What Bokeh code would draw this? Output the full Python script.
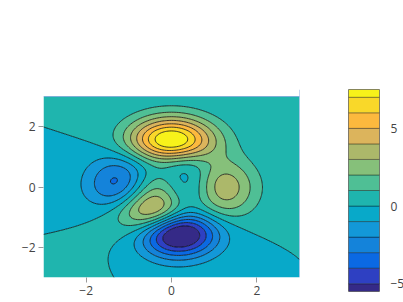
import numpy as np
from bokeh.plotting import figure
from bokeh.layouts import row
from bokeh.models import FixedTicker, Span
from bokeh.embed import file_html
from bokeh.resources import INLINE

# ---- data: the "peaks" surface sampled on a grid over [-3, 3] x [-3, 3] ----
x_vals = np.linspace(-3, 3, 151)
y_vals = np.linspace(-3, 3, 151)
X, Y = np.meshgrid(x_vals, y_vals)
Z = (3 * (1 - X) ** 2 * np.exp(-X ** 2 - (Y + 1) ** 2)
     - 10 * (X / 5 - X ** 3 - Y ** 5) * np.exp(-X ** 2 - Y ** 2)
     - 1 / 3 * np.exp(-(X + 1) ** 2 - Y ** 2))

contour_start = -5
contour_end = 7
contour_step = 1
inner_levels = list(range(contour_start, contour_end + 1, contour_step))
fill_levels = [-7] + inner_levels + [9]

band_colors = [
    "#352a87", "#2e40c2", "#0b69e3", "#1483da", "#1398d8", "#08a9c9",
    "#1fb5ae", "#4fbf95", "#86c07a", "#acb86a", "#dcb45c", "#fcb93e",
    "#f9d829", "#f7f21a",
]

x_ticks = [-2, 0, 2]
y_ticks = [-2, 0, 2]
cbar_ticks = [-5, 0, 5]

FONT = "Open Sans"
TXT = "#444444"

# ---- main contour plot (frame top shared with the colour bar at 89px) ----
p = figure(width=330, height=302, x_range=(-3, 3), y_range=(-3, 3 + 7 / 30),
           output_backend="svg", toolbar_location=None,
           frame_width=256, frame_height=188,
           min_border_left=43, min_border_right=31,
           min_border_top=89, min_border_bottom=25)
p.contour(x=x_vals, y=y_vals, z=Z, levels=fill_levels,
          fill_color=band_colors, line_color="black",
          line_width=0.8, line_alpha=0.9)
p.grid.visible = False
p.outline_line_color = None
p.background_fill_color = "white"
p.add_layout(Span(location=3, dimension="width", line_color="#7193d8",
                  line_width=1, line_alpha=0.6))
p.add_layout(Span(location=3, dimension="height", line_color="#7193d8",
                  line_width=1, line_alpha=0.8))

for ax, ticks in ((p.xaxis[0], x_ticks), (p.yaxis[0], y_ticks)):
    ax.ticker = FixedTicker(ticks=ticks)
    ax.major_label_overrides = {t: (("\u2212" + str(-t)) if t < 0 else str(t)) for t in ticks}
    ax.axis_line_color = None
    ax.major_tick_line_color = "#999999"
    ax.major_tick_out = 5
    ax.major_tick_in = 0
    ax.minor_tick_line_color = None
    ax.major_label_text_font = FONT
    ax.major_label_text_font_size = "12px"
    ax.major_label_text_color = TXT
    ax.major_label_standoff = 3

# ---- colour bar ----
cb_bottom = [contour_start - contour_step / 2] + inner_levels
cb_top = inner_levels + [contour_end + contour_step / 2]

cb = figure(width=73, height=302, x_range=(0, 1),
            y_range=(cb_bottom[0], cb_top[-1]),
            output_backend="svg", toolbar_location=None,
            frame_width=31, frame_height=202,
            min_border_left=18, min_border_right=24,
            min_border_top=89, min_border_bottom=11,
            y_axis_location="right")
cb.quad(left=0, right=1, bottom=cb_bottom, top=cb_top,
        fill_color=band_colors, line_color="black", line_alpha=0.35, line_width=1)
cb.grid.visible = False
cb.xaxis.visible = False
cb.outline_line_color = "#888888"
cb.outline_line_width = 1
ax = cb.yaxis[0]
ax.ticker = FixedTicker(ticks=cbar_ticks)
ax.major_label_overrides = {t: (("\u2212" + str(-t)) if t < 0 else str(t)) for t in cbar_ticks}
ax.axis_line_color = None
ax.major_tick_line_color = None
ax.minor_tick_line_color = None
ax.major_label_text_font = FONT
ax.major_label_text_font_size = "12px"
ax.major_label_text_color = TXT
ax.major_label_standoff = 5

layout = row(p, cb)
open("out.html", "w").write(file_html(layout, INLINE))
